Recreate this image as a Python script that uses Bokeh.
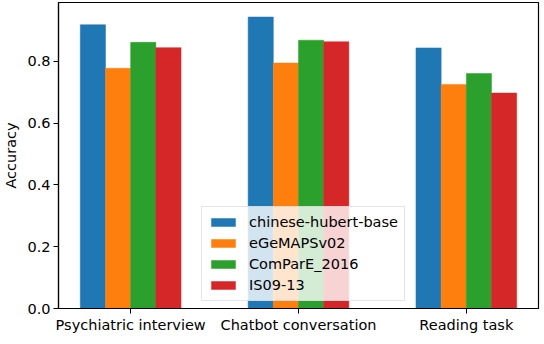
from bokeh.plotting import figure
from bokeh.models import Legend, LegendItem, FixedTicker, Range1d, ColumnDataSource
from bokeh.embed import file_html
from bokeh.resources import INLINE

categories = ["Psychiatric interview", "Chatbot conversation", "Reading task"]
series = ["chinese-hubert-base", "eGeMAPSv02", "ComParE_2016", "IS09-13"]
hubert = [0.918, 0.943, 0.843]
egemaps = [0.777, 0.794, 0.725]
compare = [0.861, 0.868, 0.760]
is09 = [0.844, 0.863, 0.697]
colors = ["#1f77b4", "#ff7f0e", "#2ca02c", "#d62728"]
y_ticks = [0.0, 0.2, 0.4, 0.6, 0.8]

values = [hubert, egemaps, compare, is09]
bar_w = 0.15
FONT = "DejaVu Sans"
FS = "14.5px"

p = figure(frame_width=480, frame_height=306, output_backend="svg", toolbar_location=None,
           x_range=Range1d(-0.43, 2.43), y_range=Range1d(0, 0.99),
           min_border_left=45, min_border_right=3, min_border_top=2, min_border_bottom=0)
p.xgrid.visible = False
p.ygrid.visible = False
p.outline_line_color = "black"
p.outline_line_width = 1.2

renderers = []
n = len(series)
for k, (name, vals, c) in enumerate(zip(series, values, colors)):
    xs = [i + (k - (n - 1) / 2) * bar_w for i in range(len(categories))]
    src = ColumnDataSource(dict(x=xs, top=vals))
    r = p.vbar(x="x", top="top", width=bar_w, bottom=0, source=src,
               fill_color=c, line_color=c, line_width=0.5)
    renderers.append((name, r))

p.xaxis.ticker = FixedTicker(ticks=list(range(len(categories))))
p.xaxis.major_label_overrides = {i: c for i, c in enumerate(categories)}
p.yaxis.ticker = FixedTicker(ticks=y_ticks)
p.yaxis.major_label_overrides = {t: f"{t:.1f}" for t in y_ticks}
p.yaxis.axis_label = "Accuracy"
for ax in (p.xaxis[0], p.yaxis[0]):
    ax.axis_line_color = "black"
    ax.axis_line_width = 1.2
    ax.major_tick_in = 0
    ax.major_tick_out = 5
    ax.minor_tick_line_color = None
    ax.major_tick_line_color = "black"
    ax.major_label_text_font = FONT
    ax.major_label_text_font_size = FS
    ax.major_label_text_color = "black"
    ax.major_label_standoff = 3
p.yaxis.axis_label_text_font = FONT
p.yaxis.axis_label_text_font_size = FS
p.yaxis.axis_label_text_font_style = "normal"
p.yaxis.axis_label_text_color = "black"
p.yaxis.axis_label_standoff = 5

legend = Legend(items=[LegendItem(label=nm, renderers=[r]) for nm, r in renderers],
                location=(143, 7), orientation="vertical")
legend.label_text_font = FONT
legend.label_text_font_size = FS
legend.label_text_color = "black"
legend.glyph_width = 30
legend.glyph_height = 10
legend.label_height = 18
legend.spacing = 3
legend.padding = 6
legend.margin = 0
legend.border_line_color = "#cccccc"
legend.border_line_width = 1
legend.background_fill_alpha = 0.8
legend.label_standoff = 11
p.add_layout(legend, "center")

open("out.html", "w").write(file_html(p, INLINE))
